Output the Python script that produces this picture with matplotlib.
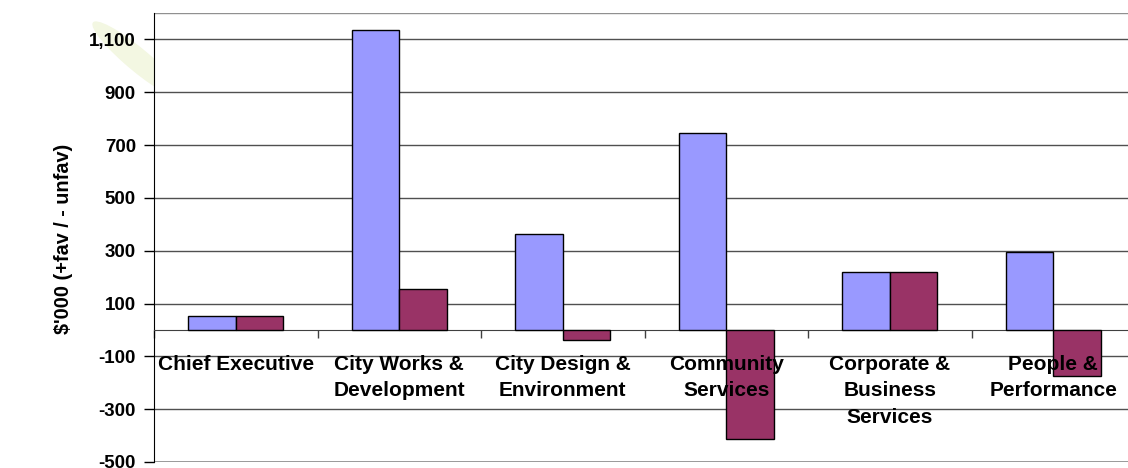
import matplotlib
matplotlib.use("Agg")
import matplotlib.pyplot as plt
from matplotlib.patches import Ellipse
import numpy as np

categories = ["Chief Executive", "City Works &\nDevelopment", "City Design &\nEnvironment",
              "Community\nServices", "Corporate &\nBusiness\nServices", "People &\nPerformance"]
series_a = [53, 1136, 364, 746, 220, 294]
series_b = [53, 155, -38, -412, 220, -174]
yticks = [-500, -300, -100, 100, 300, 500, 700, 900, 1100]

plt.rcParams['font.family'] = ['Liberation Sans', 'DejaVu Sans']

W, H = 1128, 468
fig = plt.figure(figsize=(W/100, H/100), dpi=100)

# faint leaf-like watermark behind the axes
leaf = Ellipse((138/W, 1 - 60/H), 32/W, 85/H, angle=25, transform=fig.transFigure,
               facecolor='#f3f7e2', edgecolor='none', zorder=0)
fig.patches.append(leaf)

ax = fig.add_axes([154/W, 6/H, (1135-154)/W, (462-13)/H])
ax.set_facecolor('white')
ax.set_zorder(1)

x = np.arange(len(categories))
bw = 0.29
ax.bar(x - bw/2, series_a, width=bw, color='#9999FF', edgecolor='black', linewidth=1, zorder=3)
ax.bar(x + bw/2, series_b, width=bw, color='#993366', edgecolor='black', linewidth=1, zorder=3)

ax.set_xlim(-0.5, len(categories) - 0.5)
ax.set_ylim(-500, 1200)

for yv in yticks + [1200]:
    ax.axhline(yv, color='#505050' if yv != 1200 else '#909090', linewidth=1, zorder=1)
ax.axhline(-500, color='#909090', linewidth=1.2, zorder=1)

ax.set_yticks(yticks)
ax.set_yticklabels([f"{v:,}" for v in yticks], fontsize=13.5, fontweight='bold')
ax.tick_params(axis='y', direction='out', length=7, width=1, color='black', pad=6)

ax.spines['bottom'].set_position(('data', 0))
ax.spines['bottom'].set_color('#404040')
ax.spines['top'].set_visible(False)
ax.spines['right'].set_visible(False)
ax.spines['left'].set_color('black')
ax.set_xticks(np.arange(len(categories) + 1) - 0.5)
ax.set_xticklabels([])
ax.tick_params(axis='x', direction='out', length=6, width=1, color='#404040')

for i, lab in enumerate(categories):
    ax.annotate(lab, xy=(i, 0), xytext=(0, -25), textcoords='offset pixels',
                ha='center', va='top', multialignment='center', fontsize=15,
                fontweight='bold', linespacing=1.5, zorder=5, annotation_clip=False)

ax.set_ylabel("$'000 (+fav / - unfav)", fontsize=14.3, fontweight='bold')
ax.yaxis.set_label_coords(-(154-73)/(1135-154), 0.5 + ((462+13)/2 - 239)/(462-13))

fig.savefig("out.png", dpi=100)
